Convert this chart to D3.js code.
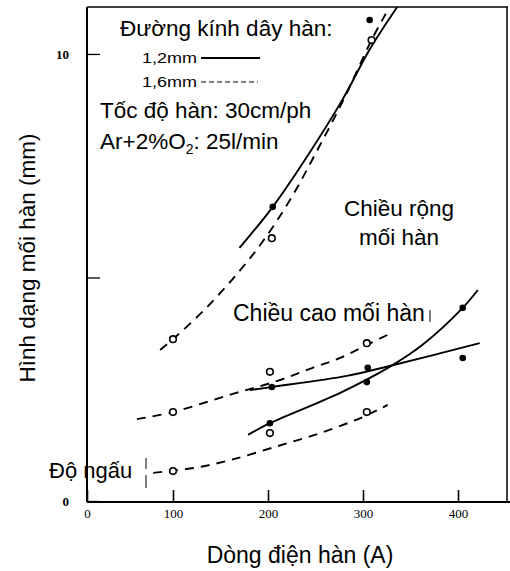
<!DOCTYPE html>
<html>
<head>
<meta charset="utf-8">
<script src="https://cdn.jsdelivr.net/npm/d3@7"></script>
<style>
  html, body { margin: 0; padding: 0; background: #fff; }
  svg { display: block; }
  text { font-family: "Liberation Sans", Arial, sans-serif; fill: #000; }
  .tick text { font-family: "Liberation Serif", "Times New Roman", serif; }
</style>
</head>
<body>
<svg id="chart" width="510" height="571"></svg>
<script>
// ---------- DATA ----------
const xTickValues = [0, 100, 200, 300, 400];
const xTickLabels = ["0", "100", "200", "300", "400"];
const yTickValues = [0, 5, 10];
const yTickLabels = ["0", "", "10"];

// Weld width (Chiều rộng mối hàn)
const width12Curve = [[170, 5.66], [205, 6.58], [241, 7.70], [279, 9.0], [307, 10.1], [336, 11.05]];
const width12Points = [[205, 6.58], [307, 10.76]];
const width16Curve = [[85, 3.38], [100, 3.62], [136, 4.34], [171, 5.17], [197, 5.88], [225, 6.80], [252, 7.85], [280, 9.0], [309, 10.31], [324, 10.9]];
const width16Points = [[100, 3.62], [204, 5.88], [309, 10.31]];

// Weld height (Chiều cao mối hàn)
const height12Curve = [[181, 2.48], [204, 2.55], [283, 2.80], [328, 3.02], [423, 3.53]];
const height12Points = [[204, 2.55], [305, 2.98], [405, 3.20]];
const height16Curve = [[58, 1.83], [100, 1.99], [162, 2.39], [209, 2.68], [247, 2.98], [276, 3.20], [304, 3.49], [332, 3.78]];
const height16Points = [[100, 1.99], [202, 2.89], [304, 3.53]];

// Penetration (Độ ngấu)
const pen12Curve = [[179, 1.48], [202, 1.74], [276, 2.42], [328, 3.0], [363, 3.5], [405, 4.32], [421, 4.72]];
const pen12Points = [[202, 1.74], [304, 2.66], [405, 4.32]];
const pen16Curve = [[77, 0.63], [101, 0.68], [128, 0.76], [163, 0.93], [209, 1.22], [255, 1.52], [300, 1.88], [326, 2.15]];
const pen16Points = [[100, 0.67], [202, 1.52], [304, 1.99]];

const legendLabels = ["1,2mm", "1,6mm"];
const titleLines = ["Đường kính dây hàn:"];
const infoLines = ["Tốc độ hàn: 30cm/ph"];
const xTitle = "Dòng điện hàn (A)";
const yTitle = "Hình dạng mối hàn (mm)";

// ---------- LAYOUT ----------
const svg = d3.select("#chart");
const plotL = 87, plotR = 507, plotT = 7, plotB = 501;

// scan of the original has a slightly stretched first interval
const x = d3.scaleLinear().domain([0, 100, 400, 452]).range([plotL, 173, 458, plotR]);
const y = d3.scaleLinear().domain([0, 11.05]).range([plotB, plotT]);

const line = d3.line().x(d => x(d[0])).y(d => y(d[1])).curve(d3.curveCatmullRom.alpha(0.5));

// frame
svg.append("line").attr("x1", plotL).attr("x2", 510).attr("y1", plotB + 1).attr("y2", plotB + 1)
  .attr("stroke", "#000").attr("stroke-width", 2);
svg.append("line").attr("x1", plotL).attr("x2", plotL).attr("y1", plotT).attr("y2", plotB + 1)
  .attr("stroke", "#000").attr("stroke-width", 2);
svg.append("line").attr("x1", plotL).attr("x2", plotR + 1).attr("y1", plotT).attr("y2", plotT)
  .attr("stroke", "#000").attr("stroke-width", 1.5);
svg.append("line").attr("x1", plotR).attr("x2", plotR).attr("y1", plotT).attr("y2", plotB + 1)
  .attr("stroke", "#000").attr("stroke-width", 1.5);

// x axis (ticks inward)
const xAxis = d3.axisBottom(x).tickValues(xTickValues).tickSize(-12).tickPadding(0)
  .tickFormat((d, i) => xTickLabels[i]);
const gx = svg.append("g").attr("transform", `translate(0,${plotB + 1})`).call(xAxis)
  .attr("font-size", 13).attr("font-family", null);
gx.select(".domain").remove();
gx.selectAll(".tick line").attr("stroke-width", 1.6);
gx.selectAll(".tick text").attr("y", 12).attr("dy", "0.32em");

// y axis (ticks inward)
const yAxis = d3.axisLeft(y).tickValues(yTickValues).tickSize(-13).tickPadding(0)
  .tickFormat((d, i) => yTickLabels[i]);
const gy = svg.append("g").attr("transform", `translate(${plotL},0)`).call(yAxis)
  .attr("font-size", 13).attr("font-family", null);
gy.select(".domain").remove();
gy.selectAll(".tick line").attr("stroke-width", 1.3);
gy.selectAll(".tick text").attr("x", -18).attr("font-weight", "bold");

// curves
const solidStyle = { "stroke": "#000", "stroke-width": 1.9, "fill": "none" };
const dashStyle = { "stroke": "#000", "stroke-width": 1.9, "fill": "none", "stroke-dasharray": "9,7" };
function drawCurve(data, style) {
  const p = svg.append("path").attr("d", line(data));
  Object.entries(style).forEach(([k, v]) => p.attr(k, v));
}
drawCurve(width12Curve, solidStyle);
drawCurve(width16Curve, dashStyle);
drawCurve(height12Curve, solidStyle);
drawCurve(height16Curve, dashStyle);
drawCurve(pen12Curve, solidStyle);
drawCurve(pen16Curve, dashStyle);

// markers
function filled(data) {
  svg.append("g").selectAll("circle").data(data).join("circle")
    .attr("cx", d => x(d[0])).attr("cy", d => y(d[1])).attr("r", 3.3).attr("fill", "#000");
}
function open(data) {
  svg.append("g").selectAll("circle").data(data).join("circle")
    .attr("cx", d => x(d[0])).attr("cy", d => y(d[1])).attr("r", 3.3)
    .attr("fill", "#fff").attr("stroke", "#000").attr("stroke-width", 1.6);
}
filled(width12Points); open(width16Points);
filled(height12Points); open(height16Points);
filled(pen12Points); open(pen16Points);

// legend / annotations
svg.append("text").attr("x", 120).attr("y", 36).style("font-size", "22.5px").text(titleLines[0]);
svg.append("text").attr("x", 142).attr("y", 63).style("font-size", "14px")
  .attr("textLength", 55).attr("lengthAdjust", "spacingAndGlyphs").text(legendLabels[0]);
svg.append("line").attr("x1", 201).attr("x2", 260).attr("y1", 58).attr("y2", 58)
  .attr("stroke", "#000").attr("stroke-width", 2);
svg.append("text").attr("x", 142).attr("y", 87).style("font-size", "14px")
  .attr("textLength", 55).attr("lengthAdjust", "spacingAndGlyphs").text(legendLabels[1]);
svg.append("line").attr("x1", 201).attr("x2", 258).attr("y1", 82).attr("y2", 82)
  .attr("stroke", "#000").attr("stroke-width", 1).attr("stroke-dasharray", "5,3");

svg.append("text").attr("x", 100).attr("y", 118).style("font-size", "22.5px").text(infoLines[0]);
const ar = svg.append("text").attr("x", 100).attr("y", 149).style("font-size", "22.5px");
ar.append("tspan").text("Ar+2%O");
ar.append("tspan").attr("dy", 5).style("font-size", "14px").text("2");
ar.append("tspan").attr("dy", -5).text(": 25l/min");

svg.append("text").attr("x", 399).attr("y", 216).attr("text-anchor", "middle").style("font-size", "22.5px").text("Chiều rộng");
svg.append("text").attr("x", 399).attr("y", 245).attr("text-anchor", "middle").style("font-size", "22.5px").text("mối hàn");
svg.append("text").attr("x", 233).attr("y", 321).style("font-size", "23px").text("Chiều cao mối hàn");
svg.append("line").attr("x1", 430).attr("x2", 430).attr("y1", 310).attr("y2", 322).attr("stroke", "#000").attr("stroke-width", 1);
svg.append("text").attr("x", 49).attr("y", 478).style("font-size", "22px").text("Độ ngấu");
svg.append("line").attr("x1", 146).attr("x2", 146).attr("y1", 458).attr("y2", 469).attr("stroke", "#000").attr("stroke-width", 1);
svg.append("line").attr("x1", 146).attr("x2", 146).attr("y1", 475).attr("y2", 488).attr("stroke", "#000").attr("stroke-width", 1);

// axis titles
svg.append("text").attr("x", 300).attr("y", 563).attr("text-anchor", "middle").style("font-size", "23px").text(xTitle);
svg.append("text").attr("transform", "translate(35,258) rotate(-90)").attr("text-anchor", "middle")
  .style("font-size", "22.5px").text(yTitle);
</script>
</body>
</html>
